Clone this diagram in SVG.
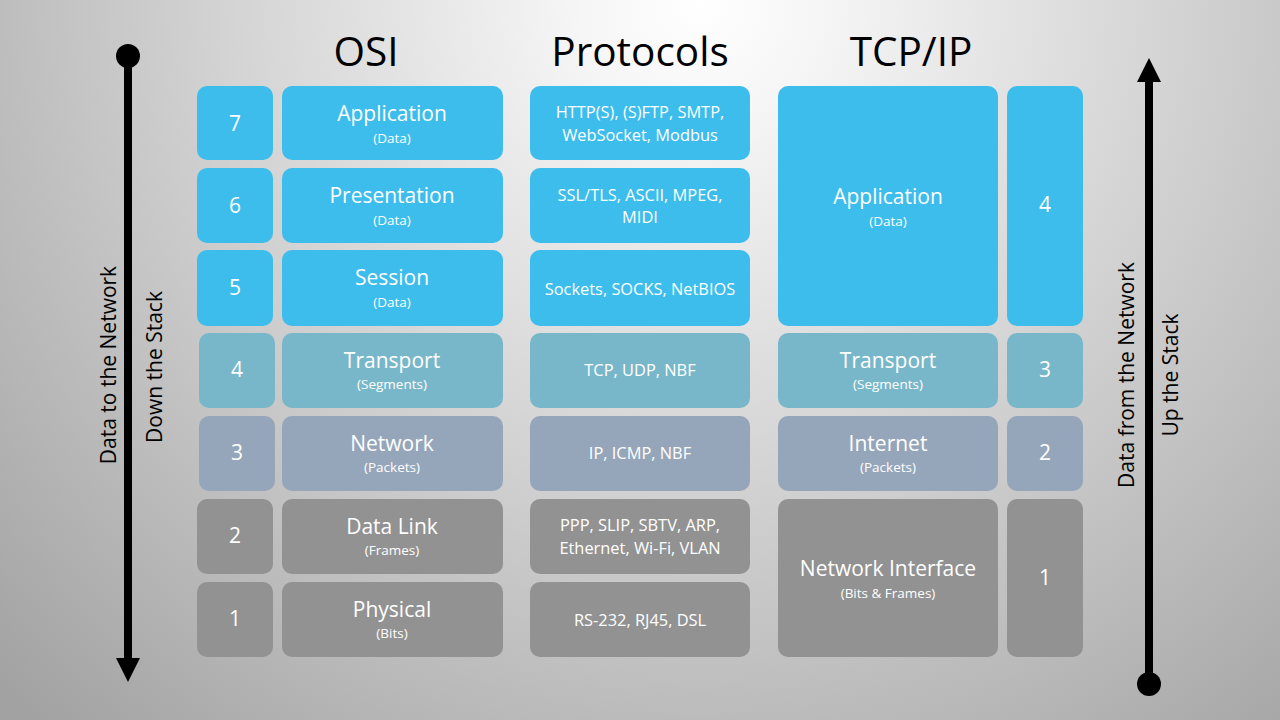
<svg xmlns="http://www.w3.org/2000/svg" width="1280" height="720" viewBox="0 0 1280 720">
<defs>
<radialGradient id="bg" gradientUnits="userSpaceOnUse" cx="700" cy="0" r="980">
<stop offset="0" stop-color="#ffffff"/>
<stop offset="0.12" stop-color="#f6f6f6"/>
<stop offset="1" stop-color="#a2a2a2"/>
</radialGradient>
<marker id="dot" markerUnits="userSpaceOnUse" markerWidth="26" markerHeight="26" refX="13" refY="13" orient="auto">
<ellipse cx="13" cy="13" rx="12" ry="12" fill="#000"/>
</marker>
<marker id="head" markerUnits="userSpaceOnUse" markerWidth="26" markerHeight="26" refX="2" refY="13" orient="auto">
<polygon points="0,1 24,13 0,25" fill="#000"/>
</marker>
</defs>
<style>
.t{font-family:"Open Sans","Liberation Sans",sans-serif;fill:#fff;text-anchor:middle}
.nm{font-size:21px}
.sb{font-size:13.5px}
.pr{font-size:16.4px}
.num{font-size:21px}
.ttl{font-family:"Open Sans","Liberation Sans",sans-serif;font-size:40.5px;fill:#000;text-anchor:middle}
.side{font-family:"Open Sans","Liberation Sans",sans-serif;font-size:21px;fill:#000;text-anchor:middle}
.blue{fill:#3cbdec}
.teal{fill:#78b7ca}
.slate{fill:#96a6ba}
.gray{fill:#929292}
.conn{stroke:#000;stroke-width:8;fill:none}
</style>
<rect width="1280" height="720" fill="url(#bg)"/>

<g id="titles">
<text class="ttl" x="366" y="66">OSI</text>
<text class="ttl" x="640" y="66">Protocols</text>
<text class="ttl" x="911" y="66">TCP/IP</text>
</g>

<g id="connectors">
<line class="conn" x1="128" y1="56" x2="128" y2="660" marker-start="url(#dot)" marker-end="url(#head)"/>
<line class="conn" x1="1149" y1="684" x2="1149" y2="80" marker-start="url(#dot)" marker-end="url(#head)"/>
</g>

<g id="side-labels">
<text class="side" transform="translate(116,365) rotate(-90)">Data to the Network</text>
<text class="side" transform="translate(162,367) rotate(-90)">Down the Stack</text>
<text class="side" transform="translate(1134,375) rotate(-90)">Data from the Network</text>
<text class="side" transform="translate(1178,375) rotate(-90)">Up the Stack</text>
</g>

<g id="osi7">
<rect class="blue" x="197" y="86" width="76" height="74" rx="10"/>
<text class="t num" x="235" y="131">7</text>
<rect class="blue" x="282" y="86" width="221" height="74" rx="10"/>
<text class="t nm" x="392" y="121">Application</text>
<text class="t sb" x="392" y="143">(Data)</text>
</g>
<g id="osi6">
<rect class="blue" x="197" y="168" width="76" height="75" rx="10"/>
<text class="t num" x="235" y="213">6</text>
<rect class="blue" x="282" y="168" width="221" height="75" rx="10"/>
<text class="t nm" x="392" y="203">Presentation</text>
<text class="t sb" x="392" y="225">(Data)</text>
</g>
<g id="osi5">
<rect class="blue" x="197" y="250" width="76" height="76" rx="10"/>
<text class="t num" x="235" y="295">5</text>
<rect class="blue" x="282" y="250" width="221" height="76" rx="10"/>
<text class="t nm" x="392" y="285">Session</text>
<text class="t sb" x="392" y="307">(Data)</text>
</g>
<g id="osi4">
<rect class="teal" x="199" y="333" width="76" height="75" rx="10"/>
<text class="t num" x="237" y="377">4</text>
<rect class="teal" x="282" y="333" width="221" height="75" rx="10"/>
<text class="t nm" x="392" y="368">Transport</text>
<text class="t sb" x="392" y="389">(Segments)</text>
</g>
<g id="osi3">
<rect class="slate" x="199" y="416" width="76" height="75" rx="10"/>
<text class="t num" x="237" y="460">3</text>
<rect class="slate" x="282" y="416" width="221" height="75" rx="10"/>
<text class="t nm" x="392" y="451">Network</text>
<text class="t sb" x="392" y="472">(Packets)</text>
</g>
<g id="osi2">
<rect class="gray" x="197" y="499" width="76" height="75" rx="10"/>
<text class="t num" x="235" y="543">2</text>
<rect class="gray" x="282" y="499" width="221" height="75" rx="10"/>
<text class="t nm" x="392" y="534">Data Link</text>
<text class="t sb" x="392" y="555">(Frames)</text>
</g>
<g id="osi1">
<rect class="gray" x="197" y="582" width="76" height="75" rx="10"/>
<text class="t num" x="235" y="626">1</text>
<rect class="gray" x="282" y="582" width="221" height="75" rx="10"/>
<text class="t nm" x="392" y="617">Physical</text>
<text class="t sb" x="392" y="638">(Bits)</text>
</g>

<g id="proto7">
<rect class="blue" x="530" y="86" width="220" height="74" rx="10"/>
<text class="t pr" x="640" y="118">HTTP(S), (S)FTP, SMTP,</text>
<text class="t pr" x="640" y="141">WebSocket, Modbus</text>
</g>
<g id="proto6">
<rect class="blue" x="530" y="168" width="220" height="75" rx="10"/>
<text class="t pr" x="640" y="201">SSL/TLS, ASCII, MPEG,</text>
<text class="t pr" x="640" y="223">MIDI</text>
</g>
<g id="proto5">
<rect class="blue" x="530" y="250" width="220" height="76" rx="10"/>
<text class="t pr" x="640" y="295">Sockets, SOCKS, NetBIOS</text>
</g>
<g id="proto4">
<rect class="teal" x="530" y="333" width="220" height="75" rx="10"/>
<text class="t pr" x="640" y="376">TCP, UDP, NBF</text>
</g>
<g id="proto3">
<rect class="slate" x="530" y="416" width="220" height="75" rx="10"/>
<text class="t pr" x="640" y="459">IP, ICMP, NBF</text>
</g>
<g id="proto2">
<rect class="gray" x="530" y="499" width="220" height="75" rx="10"/>
<text class="t pr" x="640" y="531">PPP, SLIP, SBTV, ARP,</text>
<text class="t pr" x="640" y="554">Ethernet, Wi-Fi, VLAN</text>
</g>
<g id="proto1">
<rect class="gray" x="530" y="582" width="220" height="75" rx="10"/>
<text class="t pr" x="640" y="626">RS-232, RJ45, DSL</text>
</g>

<g id="tcp4">
<rect class="blue" x="778" y="86" width="220" height="240" rx="10"/>
<text class="t nm" x="888" y="204">Application</text>
<text class="t sb" x="888" y="226">(Data)</text>
<rect class="blue" x="1007" y="86" width="76" height="240" rx="10"/>
<text class="t num" x="1045" y="212">4</text>
</g>
<g id="tcp3">
<rect class="teal" x="778" y="333" width="220" height="75" rx="10"/>
<text class="t nm" x="888" y="368">Transport</text>
<text class="t sb" x="888" y="389">(Segments)</text>
<rect class="teal" x="1007" y="333" width="76" height="75" rx="10"/>
<text class="t num" x="1045" y="377">3</text>
</g>
<g id="tcp2">
<rect class="slate" x="778" y="416" width="220" height="75" rx="10"/>
<text class="t nm" x="888" y="451">Internet</text>
<text class="t sb" x="888" y="472">(Packets)</text>
<rect class="slate" x="1007" y="416" width="76" height="75" rx="10"/>
<text class="t num" x="1045" y="460">2</text>
</g>
<g id="tcp1">
<rect class="gray" x="778" y="499" width="220" height="158" rx="10"/>
<text class="t nm" x="888" y="576">Network Interface</text>
<text class="t sb" x="888" y="598">(Bits &amp; Frames)</text>
<rect class="gray" x="1007" y="499" width="76" height="158" rx="10"/>
<text class="t num" x="1045" y="585">1</text>
</g>
</svg>
